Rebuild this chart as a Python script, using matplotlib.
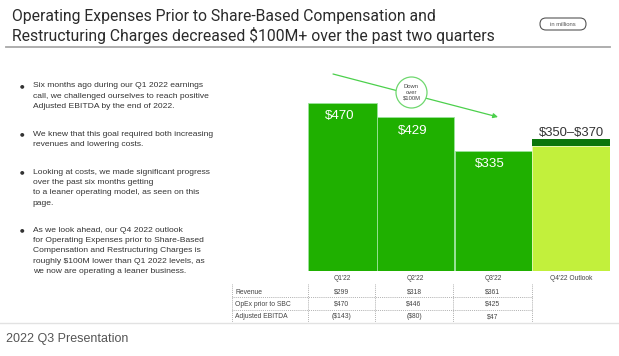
import matplotlib
matplotlib.use("Agg")
import matplotlib.pyplot as plt
from matplotlib.patches import Circle, FancyBboxPatch

# ---------------- data ----------------
title_lines = ["Operating Expenses Prior to Share-Based Compensation and",
               "Restructuring Charges decreased $100M+ over the past two quarters"]
categories = ["Q1'22", "Q2'22", "Q3'22", "Q4'22 Outlook"]
opex_actual = [470, 429, 335]
outlook_low = 350
outlook_high = 370
outlook_label = "$350\u2013$370"
bullets = [
    ["Six months ago during our Q1 2022 earnings",
     "call, we challenged ourselves to reach positive",
     "Adjusted EBITDA by the end of 2022."],
    ["We knew that this goal required both increasing",
     "revenues and lowering costs."],
    ["Looking at costs, we made significant progress",
     "over the past six months getting",
     "to a leaner operating model, as seen on this",
     "page."],
    ["As we look ahead, our Q4 2022 outlook",
     "for Operating Expenses prior to Share-Based",
     "Compensation and Restructuring Charges is",
     "roughly $100M lower than Q1 2022 levels, as",
     "we now are operating a leaner business."],
]
table_rows = ["Revenue", "OpEx prior to SBC", "Adjusted EBITDA"]
revenue = ["$299", "$318", "$361"]
opex_sbc = ["$470", "$446", "$425"]
adj_ebitda = ["($143)", "($80)", "$47"]
footer = "2022 Q3 Presentation"

# ---------------- style ----------------
GREEN = "#1fb000"
LIME = "#c2f03c"
DARK = "#0b760b"
TXT = "#333333"
W, H = 619, 356

fig = plt.figure(figsize=(W / 100, H / 100), dpi=100)
fig.patch.set_facecolor("white")

# overlay axes in pixel coordinates (y downwards)
ov = fig.add_axes([0, 0, 1, 1])
ov.set_xlim(0, W)
ov.set_ylim(H, 0)
ov.axis("off")

# bar axes
base_px, top_px = 271, 70.5
left_px, right_px = 308, 610
px_per_unit = 0.358
bx = fig.add_axes([left_px / W, (H - base_px) / H, (right_px - left_px) / W,
                   (base_px - top_px) / H])
bx.set_xlim(0, right_px - left_px)
bx.set_ylim(0, (base_px - top_px) / px_per_unit)
bx.axis("off")
bx.patch.set_alpha(0)

edges = [0, 69, 147, 224]
widths = [68.5, 77, 76.5, 78]
centers = [e + w / 2 for e, w in zip(edges, widths)]

bx.bar(edges[:3], opex_actual, width=widths[:3], align="edge", color=GREEN,
       edgecolor="#9be49b", linewidth=0.6)
bx.bar(edges[3], outlook_low, width=widths[3], align="edge", color=LIME,
       edgecolor="#e6f9b0", linewidth=0.6)
bx.bar(edges[3], outlook_high - outlook_low, bottom=outlook_low, width=widths[3],
       align="edge", color=DARK, linewidth=0)

for c, v in zip(centers[:3], opex_actual):
    bx.text(c - 3, v - 37, f"${v}", color="white", fontsize=9.6,
            family="Liberation Sans", ha="center", va="center",
            parse_math=False)
bx.text(centers[3], outlook_high + 16, outlook_label, color=TXT, fontsize=9.4,
        family="Liberation Sans", ha="center", va="center", parse_math=False)

# trend arrow with circle
ov.annotate("", xy=(498, 117), xytext=(333, 74),
            arrowprops=dict(arrowstyle="-|>", color="#4cd04c", lw=0.9,
                            mutation_scale=7, shrinkA=0, shrinkB=0))
ov.add_patch(Circle((411.5, 92.5), 15.5, facecolor="white", edgecolor="#6fd86f",
                    lw=0.9, zorder=5))
ov.text(411.5, 92.5, "Down\nover\n$100M", fontsize=4.2, color="#444444",
        family="Liberation Sans", ha="center", va="center", linespacing=1.25,
        zorder=6, parse_math=False)

# title
for i, line in enumerate(title_lines):
    ov.text(12, 17 + 19 * i, line, fontsize=11.35, color="#2b2b2b",
            family="Roboto", ha="left", va="center", parse_math=False)
ov.plot([6, 610], [47, 47], color="#a8a8a8", lw=1.3)

# in millions pill
ov.add_patch(FancyBboxPatch((540, 18), 46, 12,
                            boxstyle="round,pad=0,rounding_size=6",
                            facecolor="white", edgecolor="#555555", lw=0.8))
ov.text(563, 24, "in millions", fontsize=4.2, color="#555555",
        family="Liberation Sans", ha="center", va="center")

# bullets
y_starts = [85.7, 134, 172, 230]
for y0, blines in zip(y_starts, bullets):
    ov.text(21.7, y0, "\u25cf", fontsize=3.8, color=TXT, ha="center",
            va="center", family="DejaVu Sans")
    for j, line in enumerate(blines):
        ov.text(32.7, y0 + 10.45 * j, line, fontsize=6.1, color=TXT,
                family="Liberation Sans", ha="left", va="center",
                parse_math=False)

# category labels
cat_x = [left_px + c for c in centers]
for x, lab in zip(cat_x, categories):
    ov.text(x, 279, lab, fontsize=4.8, color="#444444",
            family="Liberation Sans", ha="center", va="center")

# table
row_y = [292.3, 304.4, 316.6]
for y, lab in zip(row_y, table_rows):
    ov.text(235, y, lab, fontsize=4.9, color="#444444",
            family="Liberation Sans", ha="left", va="center")
val_x = [341.5, 414, 492.5]
for y, vals in zip(row_y, [revenue, opex_sbc, adj_ebitda]):
    for x, v in zip(val_x, vals):
        ov.text(x, y, v, fontsize=4.9, color="#444444",
                family="Liberation Sans", ha="center", va="center",
                parse_math=False)
for x in [231.7, 308.3, 375.2, 453.3, 531.7]:
    ov.plot([x, x], [284, 322], color="#9a9a9a", lw=0.6, ls=(0, (1, 1.3)))
for y in [297, 309.5]:
    ov.plot([231.7, 531.7], [y, y], color="#9a9a9a", lw=0.6, ls=(0, (1, 1.3)))

# footer
ov.plot([0, W], [322.5, 322.5], color="#e2e2e2", lw=1.0)
ov.text(6, 339, footer, fontsize=9, color="#555555", family="Liberation Sans",
        ha="left", va="center")

fig.savefig("out.png", dpi=100, facecolor="white")
